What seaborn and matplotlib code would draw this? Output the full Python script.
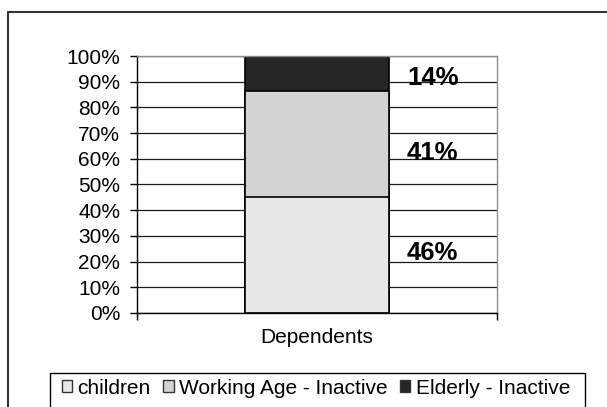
import numpy as np
import pandas as pd
import matplotlib
matplotlib.use("Agg")
import matplotlib.pyplot as plt
from matplotlib.patches import Patch, Rectangle
import seaborn as sns

# data (percent of dependents)
category = "Dependents"
series = ["children", "Working Age - Inactive", "Elderly - Inactive"]
values = [45.2, 41.2, 13.6]
labels = ["46%", "41%", "14%"]
colors = ["#e8e8e8", "#d3d3d3", "#262626"]

sns.set_style("white")
plt.rcParams["font.family"] = ["Liberation Sans", "DejaVu Sans"]
plt.rcParams["text.color"] = "black"
plt.rcParams["xtick.labelcolor"] = "black"
plt.rcParams["ytick.labelcolor"] = "black"

fig = plt.figure(figsize=(6.07, 4.07), dpi=100)
ax = fig.add_axes([0.2257, 0.231, 0.5931, 0.6314])

df = pd.DataFrame({"group": category, "series": series, "value": values})
df["top"] = df["value"].cumsum()

# stacked bar: draw the cumulative totals from the top segment down
for i in reversed(range(len(df))):
    sns.barplot(x=[df.loc[i, "group"]], y=[df.loc[i, "top"]], color=colors[i],
                edgecolor="black", linewidth=1.2, width=0.4, saturation=1, ax=ax)

ax.set_ylim(0, 100)
ax.set_xlim(-0.5, 0.5)
ax.set_yticks(np.arange(0, 101, 10))
ax.set_yticklabels([f"{t}%" for t in range(0, 101, 10)])
ax.yaxis.grid(True, color="#1a1a1a", linewidth=0.9)
ax.set_axisbelow(True)
ax.set_xlabel("")
ax.set_ylabel("")

ax.tick_params(axis="y", left=True, length=5, width=1, color="black", pad=7, labelsize=15)
ax.set_xticks([-0.5, 0.5], minor=True)
ax.tick_params(axis="x", which="minor", bottom=True, length=5, width=1, color="black")
ax.tick_params(axis="x", which="major", bottom=False, length=0, pad=11, labelsize=15)

for side in ["left", "bottom"]:
    ax.spines[side].set_color("black")
    ax.spines[side].set_linewidth(1)
for side in ["top", "right"]:
    ax.spines[side].set_color("#8c8c8c")
    ax.spines[side].set_linewidth(1)

# value labels to the right of the bar
label_y = [23.3, 62.2, 91.6]
for txt, y in zip(labels, label_y):
    ax.text(0.25, y, txt, ha="left", va="center", fontsize=18.5,
            fontweight="bold", color="black")

# outer chart border and legend box (both run off the image edge)
fig.patches.append(Rectangle((8 / 607, -0.2), 1.2, 1.2 - 12 / 407,
                             transform=fig.transFigure, fill=False,
                             edgecolor="#333333", linewidth=1.5))
fig.patches.append(Rectangle((50 / 607, -0.2), 535 / 607, 0.2 + 1 - 373 / 407,
                             transform=fig.transFigure, fill=False,
                             edgecolor="black", linewidth=1))

handles = [Patch(facecolor=c, edgecolor="#333333", linewidth=1) for c in colors]
fig.legend(handles, series, loc="center", bbox_to_anchor=(316 / 607, 1 - 388 / 407),
           ncol=3, frameon=False, fontsize=15, handlelength=0.5, handleheight=0.5,
           handletextpad=0.25, columnspacing=0.6, borderpad=0)

fig.savefig("out.png", dpi=100)
